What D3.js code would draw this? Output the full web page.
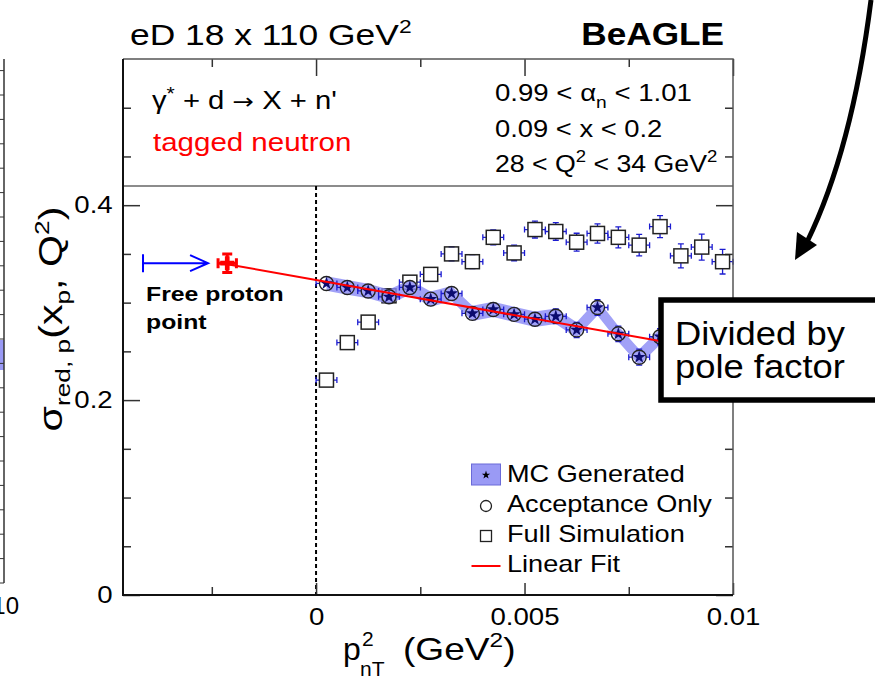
<!DOCTYPE html>
<html>
<head>
<meta charset="utf-8">
<script src="https://cdn.jsdelivr.net/npm/d3@7"></script>
<style>
body { margin: 0; background: #fff; }
svg { display: block; font-family: "Liberation Sans", Arial, Helvetica, sans-serif; }
</style>
</head>
<body>
<svg id="drawing_region"></svg>
<script>

// p_nT^2 bin centres (GeV^2)
const binCenters = [0.00025, 0.00075, 0.00125, 0.00175, 0.00225, 0.00275, 0.00325, 0.00375, 0.00425, 0.00475,
                    0.00525, 0.00575, 0.00625, 0.00675, 0.00725, 0.00775, 0.00825, 0.00875, 0.00925, 0.00975];
const binHalfWidth = 0.00025;

// Full Simulation (open squares)
const fullSimValues = [0.2205, 0.259, 0.280, 0.307, 0.321, 0.329, 0.350, 0.342, 0.367, 0.351,
                       0.375, 0.373, 0.362, 0.371, 0.367, 0.359, 0.378, 0.348, 0.357, 0.342];
const fullSimErrors = [0.003, 0.004, 0.004, 0.005, 0.005, 0.006, 0.0072, 0.0072, 0.0077, 0.008,
                       0.0087, 0.009, 0.0092, 0.0099, 0.0108, 0.011, 0.0113, 0.0123, 0.0133, 0.0126];

// MC Generated (band + stars), Acceptance Only (circles)
const mcValues  = [0.3197, 0.3156, 0.312, 0.306, 0.3156, 0.3036, 0.3094, 0.289, 0.293, 0.288,
                   0.283, 0.286, 0.272, 0.295, 0.268, 0.244, 0.265];
const mcBand    = [0.0074, 0.0075, 0.0075, 0.0076, 0.0076, 0.0077, 0.0077, 0.0078, 0.0078, 0.0079,
                   0.0079, 0.0080, 0.0080, 0.0081, 0.0081, 0.0082, 0.0082];
const accValues = [0.3197, 0.3156, 0.312, 0.306, 0.3156, 0.3036, 0.3094, 0.289, 0.293, 0.288,
                   0.283, 0.286, 0.272, 0.295, 0.268, 0.244, 0.265];
const accErrors = [0.004, 0.004, 0.0045, 0.005, 0.005, 0.0055, 0.006, 0.006, 0.0065, 0.007,
                   0.007, 0.0075, 0.0078, 0.008, 0.008, 0.0082, 0.0082];

// Linear fit and free proton point
const fitIntercept = 0.3233;
const fitSlope = -7.6;
const fitRange = [-0.00213, 0.01];
const freeProton = { x: -0.00213, y: 0.3405, ex: 0.00022, ey: 0.0095 };

// axis ticks
const xMajorTicks = [0, 0.005, 0.01];
const xMinorTicks = [-0.0025, 0.0025, 0.0075];
const yMajorTicks = [0, 0.2, 0.4];
const yMinorTicks = [0.05, 0.1, 0.15, 0.25, 0.3, 0.35, 0.45, 0.5];

const legendLabels = ["MC Generated", "Acceptance Only", "Full Simulation", "Linear Fit"];


const config = {
    width: 875,
    height: 684,
    frame: { left: 123, right: 733, top: 59, bottom: 595 },
    panelLine: 186
};

const svg = d3.select('#drawing_region')
    .attr('width', config.width)
    .attr('height', config.height);

const f = config.frame;

const x = d3.scaleLinear().domain([-0.00463, 0.01]).range([f.left, f.right]);
const y = d3.scaleLinear().domain([0, 0.55]).range([f.bottom, f.top]);

const blue = '#1c1cd0';
const navy = '#0c0c70';

// the fonts of the original are wider than Liberation Sans, so texts get a horizontal stretch
function stretched(parent, px, py, sx) {
    return parent.append('g').attr('transform', `translate(${px},${py}) scale(${sx},1)`);
}

// ---- left neighbour panel (cut off) ----
const leftPanel = svg.append('g');
leftPanel.append('rect')
    .attr('x', 0).attr('y', 340).attr('width', 4).attr('height', 30)
    .attr('fill', '#9a9af5');
leftPanel.append('line')
    .attr('x1', 4).attr('x2', 4).attr('y1', 59).attr('y2', 583)
    .attr('stroke', '#333').attr('stroke-width', 1.5);
d3.range(583, 58, -24.4).forEach(v => {
    leftPanel.append('line')
        .attr('x1', 0).attr('x2', 4).attr('y1', v).attr('y2', v)
        .attr('stroke', '#333').attr('stroke-width', 1);
});
leftPanel.append('text')
    .attr('x', 19).attr('y', 614)
    .attr('text-anchor', 'end')
    .attr('font-size', 24)
    .text('10');

// ---- upper panel separator ----
svg.append('line')
    .attr('x1', f.left).attr('x2', f.right)
    .attr('y1', config.panelLine).attr('y2', config.panelLine)
    .attr('stroke', '#666').attr('stroke-width', 1.5);

// dashed line at zero
svg.append('line')
    .attr('x1', x(0)).attr('x2', x(0))
    .attr('y1', config.panelLine).attr('y2', f.bottom)
    .attr('stroke', '#000').attr('stroke-width', 2)
    .attr('stroke-dasharray', '4,3');

// ---- axes ----
function styleAxis(g) {
    g.select('.domain').remove();
    g.selectAll('line').attr('stroke', '#333').attr('stroke-width', 1.5);
    g.selectAll('text').attr('font-size', 24).attr('fill', '#000')
        .attr('font-family', '"Liberation Sans", Arial, sans-serif')
        .attr('transform', 'scale(1.15,1)');
}

svg.append('g').attr('transform', `translate(0,${f.bottom})`)
    .call(d3.axisBottom(x).tickValues(xMajorTicks).tickSize(-12).tickPadding(13).tickFormat(d3.format('~g')))
    .call(styleAxis);
svg.append('g').attr('transform', `translate(0,${f.bottom})`)
    .call(d3.axisBottom(x).tickValues(xMinorTicks).tickSize(-8).tickFormat(''))
    .call(styleAxis);
svg.append('g').attr('transform', `translate(0,${f.top})`)
    .call(d3.axisTop(x).tickValues(xMajorTicks).tickSize(-17).tickFormat(''))
    .call(styleAxis);
svg.append('g').attr('transform', `translate(0,${f.top})`)
    .call(d3.axisTop(x).tickValues(xMinorTicks).tickSize(-8).tickFormat(''))
    .call(styleAxis);

svg.append('g').attr('transform', `translate(${f.left},0)`)
    .call(d3.axisLeft(y).tickValues(yMajorTicks).tickSize(-17).tickPadding(9).tickFormat(d3.format('~g')))
    .call(styleAxis);
svg.append('g').attr('transform', `translate(${f.left},0)`)
    .call(d3.axisLeft(y).tickValues(yMinorTicks).tickSize(-8).tickFormat(''))
    .call(styleAxis);
svg.append('g').attr('transform', `translate(${f.right},0)`)
    .call(d3.axisRight(y).tickValues(yMajorTicks).tickSize(-17).tickFormat(''))
    .call(styleAxis);
svg.append('g').attr('transform', `translate(${f.right},0)`)
    .call(d3.axisRight(y).tickValues(yMinorTicks).tickSize(-8).tickFormat(''))
    .call(styleAxis);

// ---- data ----
const plot = svg.append('g');

const fullSim = binCenters.map((c, i) => ({ x: c, y: fullSimValues[i], e: fullSimErrors[i] }));
const mc = mcValues.map((v, i) => ({ x: binCenters[i], y: v, e: mcBand[i] }));
const acc = accValues.map((v, i) => ({ x: binCenters[i], y: v, e: accErrors[i] }));

// error bars are drawn only outside the marker, like ROOT does
function errorBars(g, data, half) {
    const cap = 3;
    data.forEach(d => {
        const px = x(d.x), py = y(d.y);
        const x0 = x(d.x - binHalfWidth), x1 = x(d.x + binHalfWidth);
        const y0 = y(d.y - d.e), y1 = y(d.y + d.e);
        let path = '';
        if (px - x0 > half) {
            path += `M${x0},${py}H${px - half}M${px + half},${py}H${x1}`;
            path += `M${x0},${py - cap}V${py + cap}M${x1},${py - cap}V${py + cap}`;
        }
        if (y0 - py > half) {
            path += `M${px},${y0}V${py + half}M${px},${py - half}V${y1}`;
            path += `M${px - cap},${y0}H${px + cap}M${px - cap},${y1}H${px + cap}`;
        }
        if (path) {
            g.append('path').attr('d', path)
                .attr('fill', 'none').attr('stroke', blue).attr('stroke-width', 1.3);
        }
    });
}

// full simulation squares
errorBars(plot, fullSim, 7);
plot.selectAll('rect.sq').data(fullSim).enter()
    .append('rect').attr('class', 'sq')
    .attr('x', d => x(d.x) - 7).attr('y', d => y(d.y) - 7)
    .attr('width', 14).attr('height', 14)
    .attr('fill', 'none').attr('stroke', '#222').attr('stroke-width', 1.5);

// MC band
const band = d3.area()
    .x(d => x(d.x))
    .y0(d => y(d.y - d.e))
    .y1(d => y(d.y + d.e));
plot.append('path').datum(mc)
    .attr('d', band)
    .attr('fill', '#8a8af5').attr('fill-opacity', 0.8);

// acceptance only error bars + circles
errorBars(plot, acc, 7);
plot.selectAll('circle.acc').data(acc).enter()
    .append('circle').attr('class', 'acc')
    .attr('cx', d => x(d.x)).attr('cy', d => y(d.y)).attr('r', 7)
    .attr('fill', 'none').attr('stroke', '#222').attr('stroke-width', 1.4);

// MC stars
plot.selectAll('path.star').data(mc).enter()
    .append('path').attr('class', 'star')
    .attr('transform', d => `translate(${x(d.x)},${y(d.y)})`)
    .attr('d', d3.symbol(d3.symbolStar).size(54))
    .attr('fill', navy);

// linear fit
plot.append('line')
    .attr('x1', x(fitRange[0])).attr('y1', y(fitIntercept + fitSlope * fitRange[0]))
    .attr('x2', x(fitRange[1])).attr('y2', y(fitIntercept + fitSlope * fitRange[1]))
    .attr('stroke', '#ff0000').attr('stroke-width', 2);

// free proton point
const fpx = x(freeProton.x), fpy = y(freeProton.y);
const fx0 = x(freeProton.x - freeProton.ex), fx1 = x(freeProton.x + freeProton.ex);
const fy0 = y(freeProton.y - freeProton.ey), fy1 = y(freeProton.y + freeProton.ey);
plot.append('path')
    .attr('d', `M${fx0},${fpy}H${fx1}M${fx0},${fpy - 5}V${fpy + 5}M${fx1},${fpy - 5}V${fpy + 5}` +
               `M${fpx},${fy0}V${fy1}M${fpx - 5},${fy0}H${fpx + 5}M${fpx - 5},${fy1}H${fpx + 5}`)
    .attr('stroke', '#ff0000').attr('stroke-width', 3).attr('fill', 'none');
plot.append('path')
    .attr('transform', `translate(${fpx},${fpy})`)
    .attr('d', d3.symbol(d3.symbolCross).size(110))
    .attr('fill', '#ff0000');

// blue arrow to free proton point
const ay = y(freeProton.y);
const ax0 = x(-0.00415), ax1 = x(-0.00259);
plot.append('path')
    .attr('d', `M${ax0},${ay - 9}V${ay + 9}M${ax0},${ay}H${ax1}M${ax1 - 18},${ay - 8}L${ax1},${ay}L${ax1 - 18},${ay + 8}`)
    .attr('fill', 'none').attr('stroke', '#0000ff').attr('stroke-width', 2);

stretched(svg, 146, 301, 1.24).append('text')
    .attr('font-size', 20).attr('font-weight', 'bold').text('Free proton');
stretched(svg, 146, 329, 1.24).append('text')
    .attr('font-size', 20).attr('font-weight', 'bold').text('point');

// ---- frame ----
svg.append('path')
    .attr('d', `M${f.left},${f.top}H${f.right}V${f.bottom}`)
    .attr('fill', 'none').attr('stroke', '#555').attr('stroke-width', 1.5);
svg.append('path')
    .attr('d', `M${f.left},${f.top}V${f.bottom}H${f.right}`)
    .attr('fill', 'none').attr('stroke', '#111').attr('stroke-width', 2);

// ---- legend ----
const legend = svg.append('g');
const legX = 486, legText = 507, legRows = [475, 505, 535, 565];
legend.append('rect')
    .attr('x', legX - 14.5).attr('y', legRows[0] - 11).attr('width', 29).attr('height', 21)
    .attr('fill', '#9a9af5').attr('stroke', '#6a6ad8').attr('stroke-width', 1);
legend.append('path')
    .attr('transform', `translate(${legX},${legRows[0]})`)
    .attr('d', d3.symbol(d3.symbolStar).size(22))
    .attr('fill', '#000');
legend.append('circle')
    .attr('cx', legX).attr('cy', legRows[1] + 1).attr('r', 5.5)
    .attr('fill', 'none').attr('stroke', '#222').attr('stroke-width', 1.3);
legend.append('rect')
    .attr('x', legX - 5.5).attr('y', legRows[2] - 4.5).attr('width', 11).attr('height', 11)
    .attr('fill', 'none').attr('stroke', '#222').attr('stroke-width', 1.3);
legend.append('line')
    .attr('x1', legX - 14.5).attr('x2', legX + 14.5).attr('y1', legRows[3] + 1).attr('y2', legRows[3] + 1)
    .attr('stroke', '#ff0000').attr('stroke-width', 2);
legendLabels.forEach((label, i) => {
    stretched(legend, legText, legRows[i] + 7, 1.13).append('text')
        .attr('font-size', 24)
        .text(label);
});

// ---- titles and labels ----
const title = stretched(svg, 130, 45, 1.2).append('text').attr('font-size', 29.5);
title.append('tspan').text('eD 18 x 110 GeV');
title.append('tspan').attr('dy', -12).attr('font-size', 19).text('2');

stretched(svg, 724, 45, 1.1).append('text')
    .attr('text-anchor', 'end').attr('font-size', 32).attr('font-weight', 'bold')
    .text('BeAGLE');

const reaction = stretched(svg, 152, 109, 1.17).append('text').attr('font-size', 25);
reaction.append('tspan').text('γ');
reaction.append('tspan').attr('dy', -9).attr('font-size', 18).text('*');
reaction.append('tspan').attr('dy', 9).text(' + d ');
reaction.append('tspan').attr('font-family', '"DejaVu Sans", sans-serif').attr('font-size', 22).text('→');
reaction.append('tspan').text(' X + n\'');

stretched(svg, 153, 151, 1.18).append('text')
    .attr('font-size', 25).attr('fill', '#ff0000').text('tagged neutron');

const cut1 = stretched(svg, 495, 101, 1.2).append('text').attr('font-size', 23);
cut1.append('tspan').text('0.99 < α');
cut1.append('tspan').attr('dy', 7).attr('font-size', 16).text('n');
cut1.append('tspan').attr('dy', -7).text('  < 1.01');

stretched(svg, 495, 137, 1.19).append('text').attr('font-size', 23).text('0.09 < x < 0.2');

const cut3 = stretched(svg, 495, 172, 1.16).append('text').attr('font-size', 23);
cut3.append('tspan').text('28 < Q');
cut3.append('tspan').attr('dy', -10).attr('font-size', 16).text('2');
cut3.append('tspan').attr('dy', 10).text(' < 34 GeV');
cut3.append('tspan').attr('dy', -10).attr('font-size', 16).text('2');

// y axis title
const yTitle = svg.append('g')
    .attr('transform', 'translate(62,319) rotate(-90) scale(1.25,1)')
    .append('text')
    .attr('text-anchor', 'middle').attr('font-size', 33);
yTitle.append('tspan').text('σ');
yTitle.append('tspan').attr('dy', 8).attr('font-size', 21).text('red, p');
yTitle.append('tspan').attr('dy', -8).text('(x');
yTitle.append('tspan').attr('dy', 8).attr('font-size', 21).text('p');
yTitle.append('tspan').attr('dy', -8).text(', Q');
yTitle.append('tspan').attr('dy', -13).attr('font-size', 21).text('2');
yTitle.append('tspan').attr('dy', 13).text(')');

// x axis title
const xTitle = svg.append('g').attr('font-size', 32);
xTitle.append('text').attr('x', 343).attr('y', 660).text('p');
xTitle.append('text').attr('x', 362).attr('y', 646).attr('font-size', 21).text('2');
xTitle.append('text').attr('x', 360).attr('y', 676).attr('font-size', 21).text('nT');
const xUnit = stretched(xTitle, 403, 660, 1.16).append('text');
xUnit.append('tspan').text('(GeV');
xUnit.append('tspan').attr('dy', -13).attr('font-size', 21).text('2');
xUnit.append('tspan').attr('dy', 13).text(')');

// ---- annotation ----
svg.append('path')
    .attr('d', 'M871,0 Q852,150 807,242')
    .attr('fill', 'none').attr('stroke', '#000').attr('stroke-width', 5);
svg.append('path')
    .attr('d', 'M795,260 L797,232 L817,245 Z')
    .attr('fill', '#000');

svg.append('rect')
    .attr('x', 661).attr('y', 300).attr('width', 260).attr('height', 100)
    .attr('fill', '#fff').attr('stroke', '#000').attr('stroke-width', 5.5);
stretched(svg, 675, 345, 1.07).append('text').attr('font-size', 34).text('Divided by');
stretched(svg, 675, 378, 1.07).append('text').attr('font-size', 34).text('pole factor');

</script>
</body>
</html>
